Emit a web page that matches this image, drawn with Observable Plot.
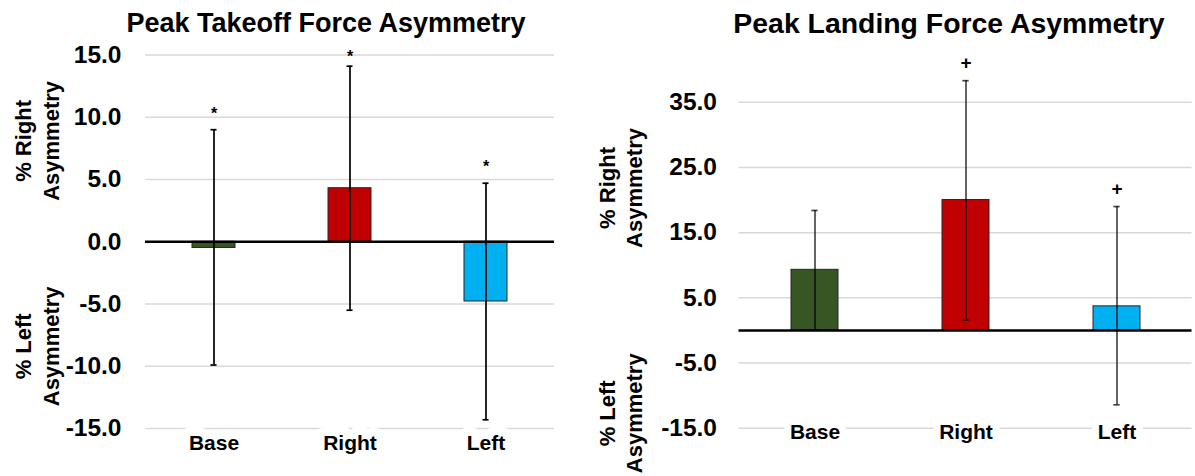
<!DOCTYPE html>
<html><head><meta charset="utf-8">
<script src="https://cdn.jsdelivr.net/npm/d3@7"></script>
<script src="https://cdn.jsdelivr.net/npm/@observablehq/plot@0.6"></script>
<style>
body{margin:0;background:#fff;}
#wrap{position:relative;width:1195px;height:476px;overflow:hidden;font-family:"Liberation Sans",Arial,sans-serif;}
.chart{position:absolute;top:0;}
.title{position:absolute;font-weight:bold;white-space:nowrap;transform:translateX(-50%);color:#000;line-height:1;}
</style></head><body>
<div id="wrap"></div>
<script>
// ---- data ----
const categories = ["Base", "Right", "Left"];
const barColors = ["#375623", "#C00000", "#00B0F0"];

const takeoffMean = [-0.5, 4.3, -4.8];
const takeoffLow  = [-9.9, -5.5, -14.3];
const takeoffHigh = [9.0, 14.1, 4.7];
const takeoffMarks = ["*", "*", "*"];
const takeoffMarkY = [10.6, 15.2, 6.3];
const takeoffTicks = [-15, -10, -5, 0, 5, 10, 15];

const landingMean = [9.3, 20.0, 3.7];
const landingLow  = [0.1, 1.6, -11.4];
const landingHigh = [18.4, 38.3, 19.0];
const landingMarks = ["", "+", "+"];
const landingMarkY = [null, 41.0, 21.7];
const landingTicks = [-15, -5, 5, 15, 25, 35];

const FONT = "Liberation Sans, Arial, sans-serif";

function makeChart(cfg) {
  const rows = categories.map((c, i) => ({
    cat: c, color: barColors[i], mean: cfg.mean[i], low: cfg.low[i], high: cfg.high[i],
    mark: cfg.marks[i], markY: cfg.markY[i]
  }));
  const plotW = cfg.width - cfg.marginLeft - cfg.marginRight;
  const step = plotW / 3;
  const bw = step * (1 - cfg.padInner);
  const capInset = (bw - 6) / 2;
  return Plot.plot({
    width: cfg.width, height: 476,
    marginLeft: cfg.marginLeft, marginRight: cfg.marginRight,
    marginTop: cfg.marginTop, marginBottom: cfg.marginBottom,
    style: {fontFamily: FONT, fontWeight: "bold", color: "#000", background: "transparent"},
    x: {domain: categories, paddingInner: cfg.padInner, paddingOuter: cfg.padInner / 2, axis: null},
    y: {domain: cfg.domain, axis: null},
    marks: [
      Plot.gridY(cfg.ticks.filter(t => t !== 0), {stroke: "#d9d9d9", strokeOpacity: 1, strokeWidth: 1.5}),
      Plot.axisY(cfg.ticks, {tickSize: 0, tickPadding: cfg.tickPad, fontSize: 24.5, fill: "#000",
        tickFormat: d => d.toFixed(1)}),
      Plot.barY(rows, {x: "cat", y1: 0, y2: "mean", fill: d => d.color, stroke: "#262626", strokeWidth: 1}),
      Plot.ruleY([0], {stroke: "#000", strokeWidth: 2.5}),
      Plot.ruleX(rows, {x: "cat", y1: "low", y2: "high", stroke: "#000", strokeOpacity: cfg.errOpacity, strokeWidth: 1.7}),
      Plot.tickY(rows, {x: "cat", y: "high", insetLeft: capInset, insetRight: capInset, stroke: "#000", strokeOpacity: cfg.errOpacity, strokeWidth: 1.7}),
      Plot.tickY(rows, {x: "cat", y: "low", insetLeft: capInset, insetRight: capInset, stroke: "#000", strokeOpacity: cfg.errOpacity, strokeWidth: 1.7}),
      Plot.text(rows.filter(d => d.mark), {x: "cat", y: "markY", text: "mark", fontSize: cfg.markSize, dy: cfg.markDy, lineAnchor: "middle", fill: "#000"}),
      // y-axis side labels
      Plot.text(cfg.yLabels, {y: d => d.y, text: d => d.text, frameAnchor: "left", dx: cfg.yLabelDx, rotate: -90,
        fontSize: 22, lineHeight: 1.25, textAnchor: "middle", lineAnchor: "middle", fill: "#000"}),
      // category labels with white box
      Plot.text(categories, {x: d => d, frameAnchor: "bottom", lineAnchor: "top", dy: cfg.xLabelDy, fontSize: 21,
        fill: "white", stroke: "white", strokeWidth: cfg.haloW}),
      Plot.text(categories, {x: d => d, frameAnchor: "bottom", lineAnchor: "top", dy: cfg.xLabelDy, fontSize: 21, fill: "#000"})
    ]
  });
}

const wrap = document.getElementById("wrap");

const left = makeChart({
  width: 580, marginLeft: 145, marginRight: 26, marginTop: 54.5, marginBottom: 48,
  padInner: 0.685, domain: [-15, 15], ticks: takeoffTicks, tickPad: 24,
  mean: takeoffMean, low: takeoffLow, high: takeoffHigh, marks: takeoffMarks, markY: takeoffMarkY,
  markSize: 16, markDy: 4, errOpacity: 1,
  yLabels: [{y: 8.1, text: "% Right\nAsymmetry"}, {y: -8.4, text: "% Left\nAsymmetry"}],
  yLabelDx: -109.5, xLabelDy: 7, haloW: 18
});
left.classList.add("chart"); left.style.left = "0px";
wrap.appendChild(left);

const right = makeChart({
  width: 615, marginLeft: 158.5, marginRight: 3.5, marginTop: 36.5, marginBottom: 48.2,
  padInner: 0.691, domain: [-15, 45], ticks: landingTicks, tickPad: 22,
  mean: landingMean, low: landingLow, high: landingHigh, marks: landingMarks, markY: landingMarkY,
  markSize: 19, markDy: 0, errOpacity: 0.72,
  yLabels: [{y: 21.85, text: "% Right\nAsymmetry"}, {y: -12.7, text: "% Left\nAsymmetry"}],
  yLabelDx: -119.5, xLabelDy: -4.2, haloW: 14
});
right.classList.add("chart"); right.style.left = "580px";
wrap.appendChild(right);

function addTitle(text, cx, size) {
  const d = document.createElement("div");
  d.className = "title";
  d.textContent = text;
  d.style.fontSize = size + "px";
  d.style.left = cx + "px";
  // baseline near y = 33
  d.style.top = (33 - 0.85 * size) + "px";
  wrap.appendChild(d);
}
addTitle("Peak Takeoff Force Asymmetry", 326, 27);
addTitle("Peak Landing Force Asymmetry", 949, 28.4);
</script>
</body></html>
